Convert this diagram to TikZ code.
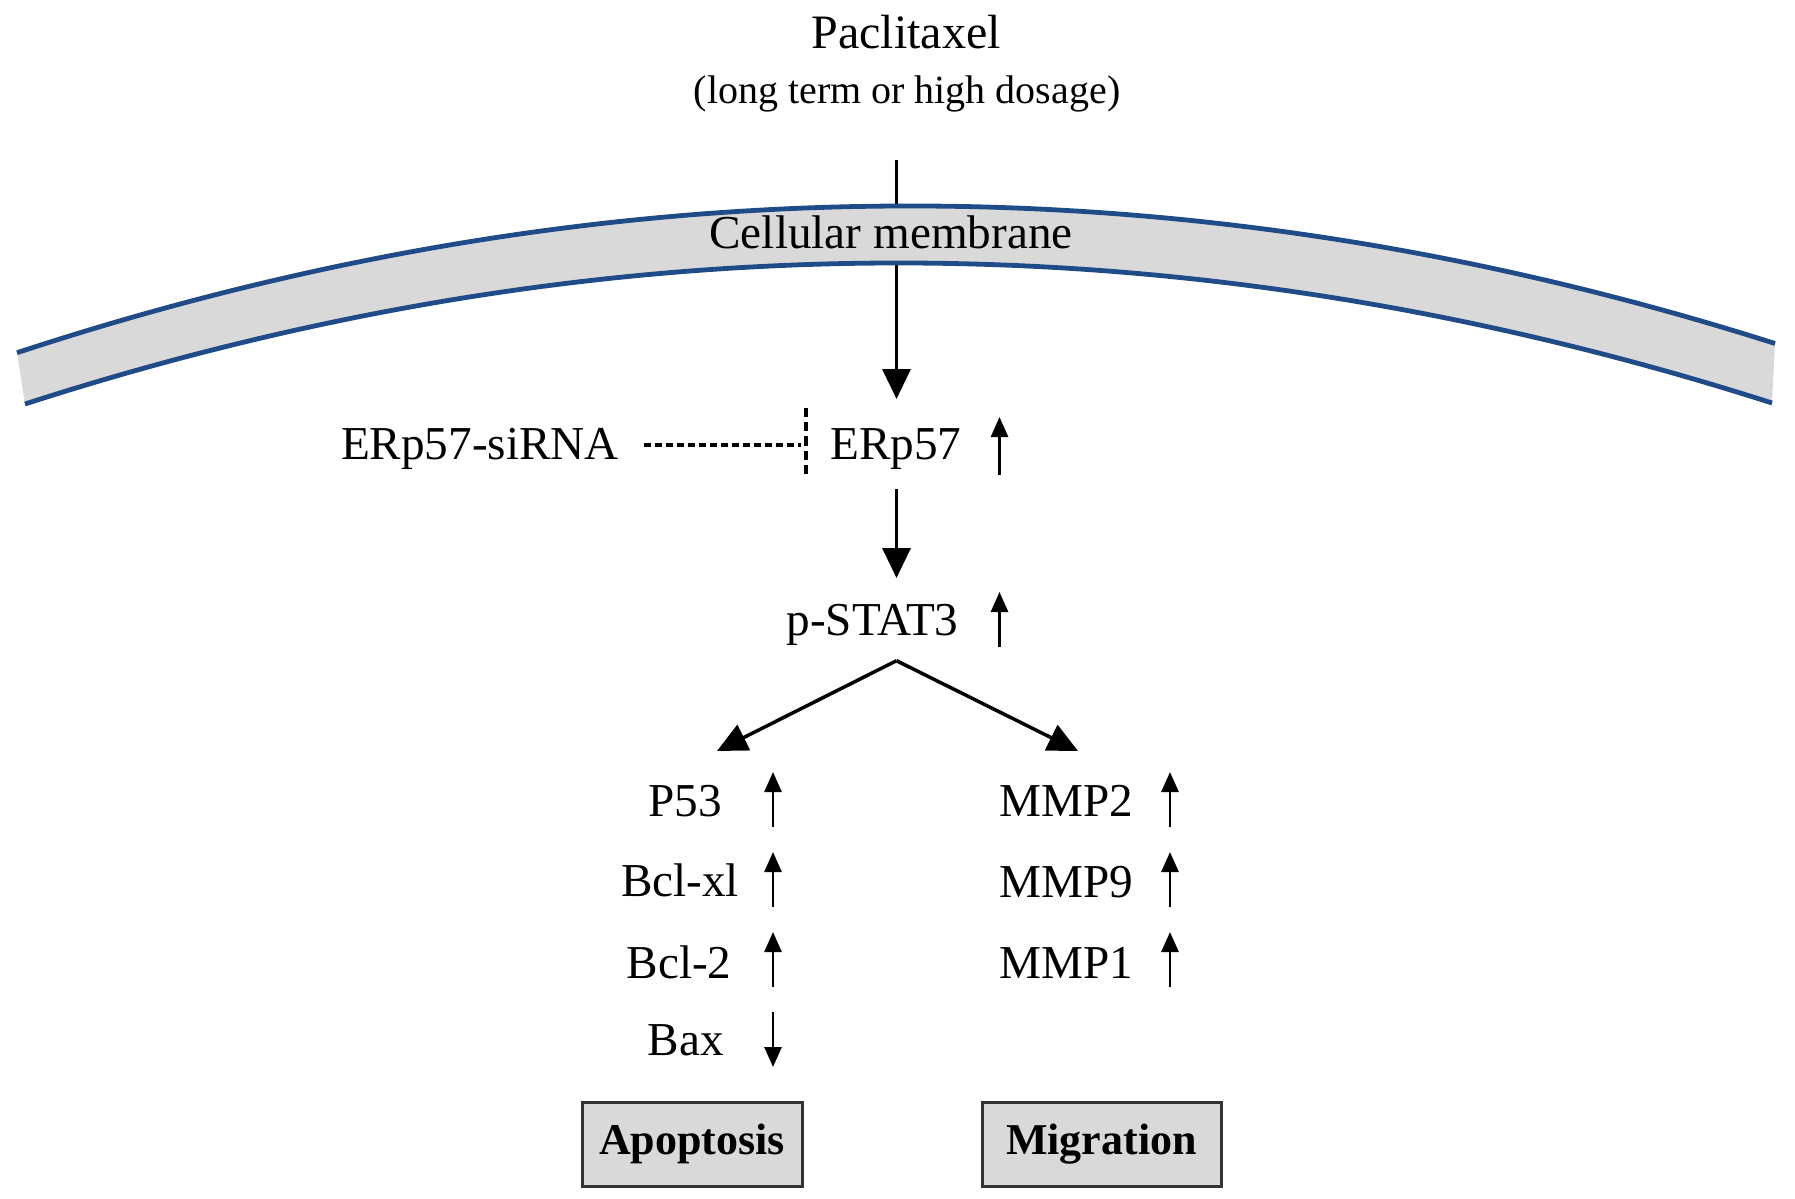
\documentclass[tikz,border=0pt]{standalone}
\usepackage{fontspec}
\setmainfont{Liberation Serif}
\usetikzlibrary{arrows.meta}
\definecolor{memfill}{HTML}{D9D9D9}
\definecolor{memline}{HTML}{1F4C88}
\definecolor{boxline}{HTML}{333333}
\begin{document}
\begin{tikzpicture}[x=0.5pt,y=-0.5pt,
  lbl/.style={inner sep=0pt, anchor=base, font=\fontsize{23.6}{28}\selectfont},
  bigarrow/.style={line width=1.75pt, -{Triangle[width=14pt,length=15pt]}},
  updown/.style={line width=1.4pt, -{Triangle[width=8.5pt,length=10pt]}},
  inhib/.style={line width=2pt, dash pattern=on 3.6pt off 1.9pt},
  outcome/.style={draw=boxline, line width=1.5pt, fill=memfill, inner sep=0pt,
    minimum height=42pt, font=\bfseries\fontsize{22}{26}\selectfont},
  membrane/.style={memline, line width=2.4pt}
]
\useasboundingbox (0,0) rectangle (1795,1199);

% texts at top
\node[lbl, font=\fontsize{24}{28}\selectfont] (pac) at (906,48) {Paclitaxel};
\node[lbl, font=\fontsize{20}{24}\selectfont] (dose) at (907,103) {(long term or high dosage)};

% paclitaxel arrow (behind membrane)
\coordinate (pacstart) at (896.5,160);
\coordinate (erptop) at (896.5,399);
\draw[bigarrow] (pacstart) -- (erptop);

% membrane
\fill[memfill] (17,352.7) .. controls (603,160.2) and (1189,157.1) .. (1775,343.5)
  -- (1772,403) .. controls (1188,216) and (605.7,216.3) .. (25,404) -- cycle;
\draw[membrane] (17,352.7) .. controls (603,160.2) and (1189,157.1) .. (1775,343.5);
\draw[membrane] (25,404) .. controls (605.7,216.3) and (1188,216) .. (1772,403);
\node[lbl] (mem) at (891,248.5) {Cellular membrane};

% ERp57 row
\node[lbl] (sirna) at (480,459) {ERp57-siRNA};
\node[lbl] (erp) at (896,459) {ERp57};
\coordinate (inhA) at (644,445);
\coordinate (inhB) at (801,445);
\coordinate (barT) at (806,408);
\coordinate (barB) at (806,474);
\draw[inhib] (inhA) -- (inhB);
\draw[inhib, dash pattern=on 4.6pt off 2.5pt] (barT) -- (barB);
\coordinate (erpupB) at (999.5,475);
\coordinate (erpupT) at (999.5,417);
\draw[updown] (erpupB) -- (erpupT);

% ERp57 -> p-STAT3
\coordinate (erpbot) at (896.5,489);
\coordinate (stattop) at (896.5,578);
\draw[bigarrow] (erpbot) -- (stattop);
\node[lbl] (stat) at (872.5,635.5) {p-STAT3};
\coordinate (statupB) at (999.5,647);
\coordinate (statupT) at (999.5,592);
\draw[updown] (statupB) -- (statupT);

% split
\coordinate (split) at (896.5,660.7);
\coordinate (leftT) at (717,751);
\coordinate (rightT) at (1078,751);
\draw[bigarrow] (split) -- (leftT);
\draw[bigarrow] (split) -- (rightT);

% left column
\node[lbl] (p53) at (685,816.5) {P53};
\node[lbl] (bclxl) at (680,896.5) {Bcl-xl};
\node[lbl] (bcl2) at (679,978) {Bcl-2};
\node[lbl] (bax) at (686,1055.7) {Bax};
\coordinate (a1b) at (773,826.7); \coordinate (a1t) at (773,772);
\coordinate (a2b) at (773,906.8); \coordinate (a2t) at (773,852);
\coordinate (a3b) at (773,987);   \coordinate (a3t) at (773,932);
\coordinate (a4t) at (773,1012);  \coordinate (a4b) at (773,1067);
\draw[updown] (a1b) -- (a1t);
\draw[updown] (a2b) -- (a2t);
\draw[updown] (a3b) -- (a3t);
\draw[updown] (a4t) -- (a4b);

% right column
\node[lbl] (mmp2) at (1066,816.5) {MMP2};
\node[lbl] (mmp9) at (1066,897.5) {MMP9};
\node[lbl] (mmp1) at (1066,978) {MMP1};
\coordinate (b1b) at (1170,826.7); \coordinate (b1t) at (1170,772);
\coordinate (b2b) at (1170,906.8); \coordinate (b2t) at (1170,852);
\coordinate (b3b) at (1170,987);   \coordinate (b3t) at (1170,932);
\draw[updown] (b1b) -- (b1t);
\draw[updown] (b2b) -- (b2t);
\draw[updown] (b3b) -- (b3t);

% outcome boxes
\node[outcome, minimum width=110pt] (apo) at (692,1144) {Apoptosis};
\node[outcome, minimum width=119.5pt] (mig) at (1101.5,1144) {Migration};
\end{tikzpicture}
\end{document}
